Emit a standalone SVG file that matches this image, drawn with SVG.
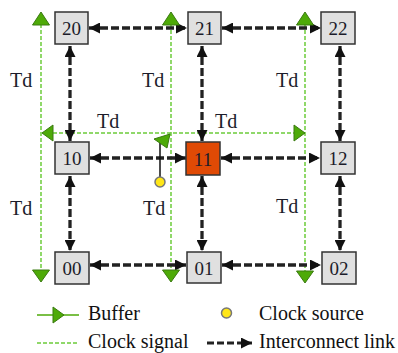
<svg xmlns="http://www.w3.org/2000/svg" width="398" height="353" viewBox="0 0 398 353">
<style>
.box{fill:#e0e0e0;stroke:#333;stroke-width:1.5}
.hot{fill:#e04a05;stroke:#333;stroke-width:1.5}
.lbl{font-size:19px;fill:#1c1c2a;text-anchor:middle}
.td{font-size:20px;fill:#1c1c2a}
.leg{font-size:20px;fill:#111}
.clk{stroke:#6ccc3a;stroke-width:1.5;stroke-dasharray:4 2;fill:none}
.buf{fill:#4eaa08;stroke:#3a7a10;stroke-width:1}
.link{stroke:#222;stroke-width:3.3;stroke-dasharray:8 3;fill:none;marker-start:url(#ah);marker-end:url(#ah)}
</style>
<defs>
<marker id="ah" viewBox="0 0 10 10" refX="10" refY="5" markerWidth="11" markerHeight="11" markerUnits="userSpaceOnUse" orient="auto-start-reverse">
<path d="M0,0 L10,5 L0,10 Z" fill="#111"/>
</marker>
<marker id="ah1" viewBox="0 0 10 10" refX="10" refY="5" markerWidth="11" markerHeight="11" markerUnits="userSpaceOnUse" orient="auto">
<path d="M0,0 L10,5 L0,10 Z" fill="#111"/>
</marker>
</defs>
<rect width="398" height="353" fill="#fff"/>

<g id="clock-tree">
<line class="clk" x1="41" y1="24" x2="41" y2="270"/>
<line class="clk" x1="171" y1="24" x2="171" y2="270"/>
<line class="clk" x1="305" y1="24" x2="305" y2="271"/>
<line class="clk" x1="53" y1="133" x2="295" y2="133"/>
</g>

<g id="connectors">
<line class="link" x1="89" y1="28" x2="187" y2="28"/>
<line class="link" x1="222" y1="28" x2="321" y2="28"/>
<line class="link" x1="90" y1="158" x2="186" y2="158"/>
<line class="link" x1="221" y1="158" x2="320" y2="158"/>
<line class="link" x1="90" y1="265" x2="186" y2="265"/>
<line class="link" x1="222" y1="265" x2="321" y2="265"/>
<line class="link" x1="70" y1="46" x2="70" y2="141"/>
<line class="link" x1="202" y1="46" x2="202" y2="141"/>
<line class="link" x1="340" y1="46" x2="340" y2="141"/>
<line class="link" x1="70" y1="176" x2="70" y2="251"/>
<line class="link" x1="202" y1="176" x2="202" y2="251"/>
<line class="link" x1="340" y1="176" x2="340" y2="251"/>
</g>

<g id="buffers">
<polygon class="buf" points="41,12 32.5,25 49.5,25"/>
<polygon class="buf" points="171,12 162.5,25 179.5,25"/>
<polygon class="buf" points="305,12 296.5,25 313.5,25"/>
<polygon class="buf" points="41,282 32.5,270 49.5,270"/>
<polygon class="buf" points="171,282 162.5,270 179.5,270"/>
<polygon class="buf" points="305,283 296.5,271 313.5,271"/>
<polygon class="buf" points="42,133 53,125 53,141"/>
<polygon class="buf" points="305,133 294,125 294,141"/>
</g>

<g id="clock-source">
<line x1="160" y1="177" x2="160" y2="142" stroke="#111" stroke-width="1.5"/>
<polygon class="buf" points="154,139 170,134 167,148"/>
<circle cx="160" cy="182" r="5" fill="#ffe617" stroke="#777" stroke-width="1.5"/>
</g>

<g font-family="'Liberation Serif', 'DejaVu Serif', serif">
<g id="n20"><rect class="box" x="55" y="12" width="33" height="32"/><text class="lbl" x="71.5" y="35">20</text></g>
<g id="n21"><rect class="box" x="188" y="12" width="33" height="32"/><text class="lbl" x="204.5" y="35">21</text></g>
<g id="n22"><rect class="box" x="321" y="12" width="34" height="32"/><text class="lbl" x="338" y="35">22</text></g>
<g id="n10"><rect class="box" x="55" y="142" width="34" height="32"/><text class="lbl" x="72" y="165">10</text></g>
<g id="n11"><rect class="hot" x="186" y="142" width="34" height="33"/><text class="lbl" x="203" y="165.5">11</text></g>
<g id="n12"><rect class="box" x="321" y="142" width="34" height="32"/><text class="lbl" x="338" y="165">12</text></g>
<g id="n00"><rect class="box" x="55" y="252" width="34" height="32"/><text class="lbl" x="72" y="275">00</text></g>
<g id="n01"><rect class="box" x="187" y="252" width="34" height="31"/><text class="lbl" x="204" y="274.5">01</text></g>
<g id="n02"><rect class="box" x="322" y="252" width="34" height="32"/><text class="lbl" x="339" y="275">02</text></g>

<g id="delays">
<text class="td" x="10" y="87">Td</text>
<text class="td" x="142" y="87">Td</text>
<text class="td" x="276" y="87">Td</text>
<text class="td" x="97" y="128">Td</text>
<text class="td" x="215" y="128">Td</text>
<text class="td" x="10" y="215">Td</text>
<text class="td" x="143" y="215">Td</text>
<text class="td" x="276" y="213">Td</text>
</g>

<g id="legend">
<line x1="37" y1="315" x2="79" y2="315" stroke="#4eaa08" stroke-width="1.5"/>
<polygon class="buf" points="53,307 64,315 53,323"/>
<text class="leg" x="88" y="320">Buffer</text>
<circle cx="226.5" cy="313" r="5" fill="#ffe617" stroke="#777" stroke-width="1.5"/>
<text class="leg" x="259" y="320">Clock source</text>
<line class="clk" x1="37" y1="343" x2="77" y2="343"/>
<text class="leg" x="88" y="348">Clock signal</text>
<line x1="207" y1="343" x2="252" y2="343" stroke="#222" stroke-width="3" stroke-dasharray="7 3" marker-end="url(#ah1)"/>
<text class="leg" x="259" y="348">Interconnect link</text>
</g>
</g>
</svg>
